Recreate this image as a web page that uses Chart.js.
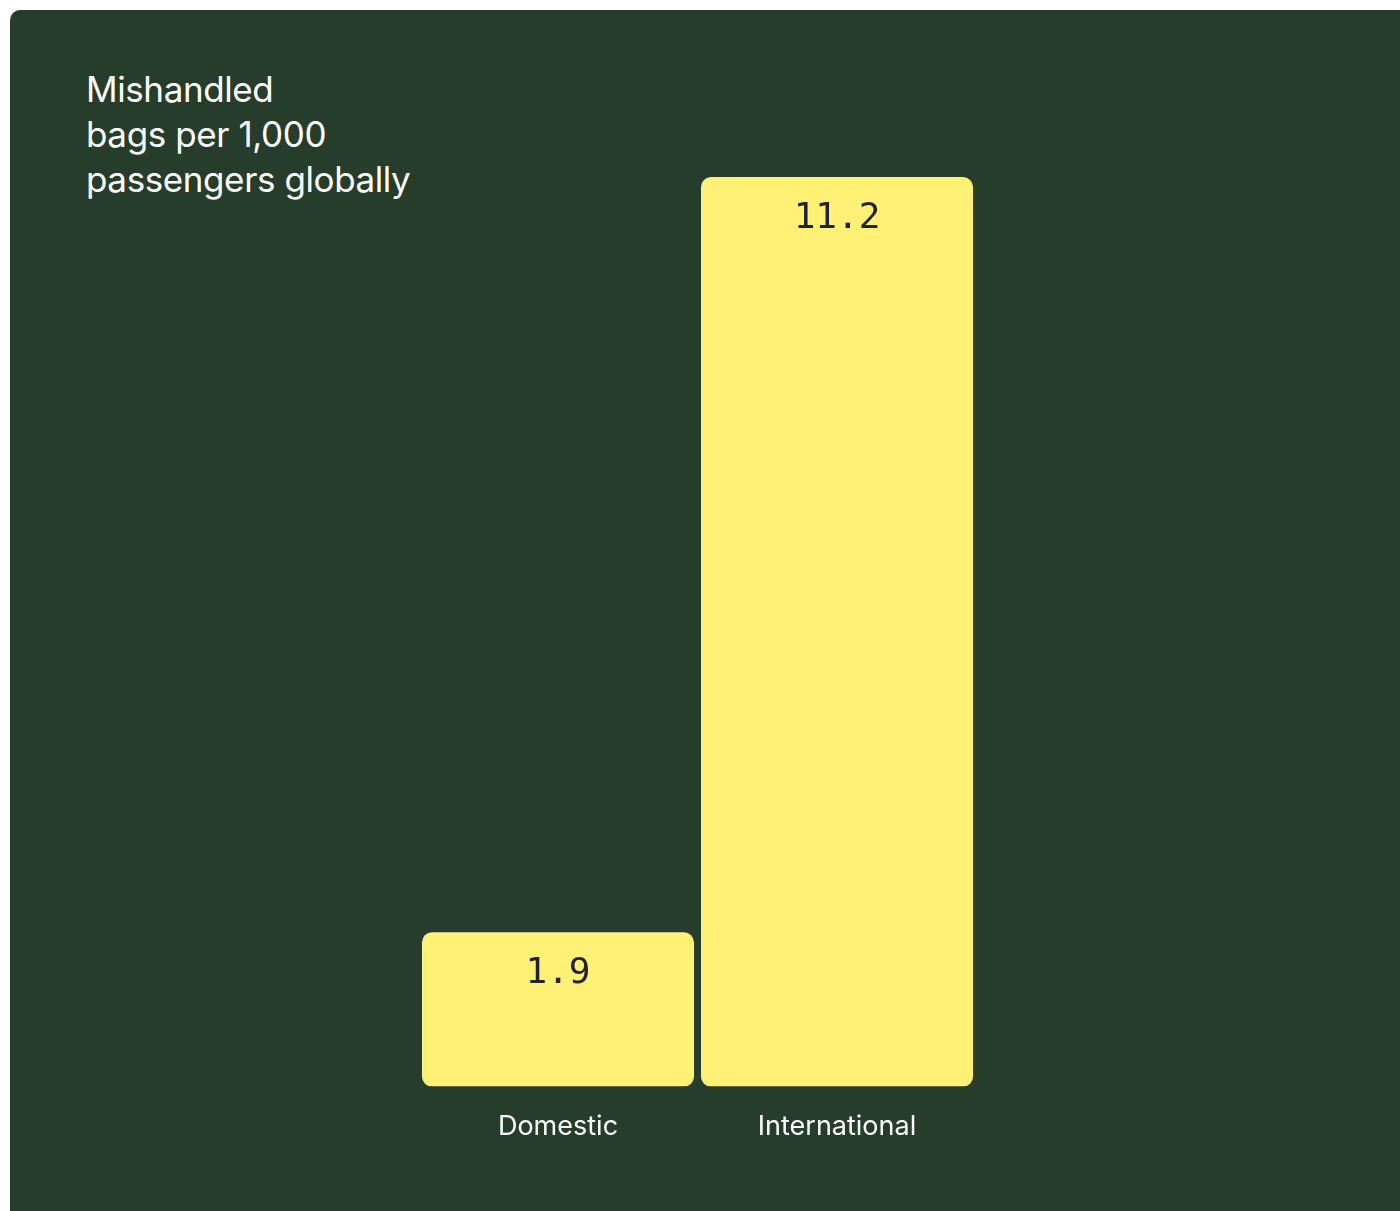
<!DOCTYPE html>
<html>
<head>
<meta charset="utf-8">
<script src="https://cdn.jsdelivr.net/npm/chart.js@4"></script>
<style>
  html, body { margin: 0; padding: 0; background: #ffffff; }
  body { width: 1400px; height: 1211px; position: relative; overflow: hidden; }
  #panel {
    position: absolute; left: 10px; top: 10px; width: 1410px; height: 1230px;
    background: #263d2b; border-radius: 10px;
  }
  #title {
    position: absolute; left: 86px; top: 67px; margin: 0;
    font-family: Inter, "Noto Sans", sans-serif; font-weight: 400;
    font-size: 35px; line-height: 45px; color: #ffffff; letter-spacing: -0.4px;
  }
  #chartWrap { position: absolute; left: 0; top: 0; width: 1400px; height: 1211px; }
</style>
</head>
<body>
<div id="panel"></div>
<p id="title">Mishandled<br>bags per 1,000<br>passengers globally</p>
<div id="chartWrap"><canvas id="chart" width="1400" height="1211"></canvas></div>
<script>
// data
const categories = ['Domestic', 'International'];
const bagsPer1000 = [1.9, 11.2];
const valueLabels = ['1.9', '11.2'];

// 棒の中に値を書く
const valueLabelPlugin = {
  id: 'valueLabels',
  afterDatasetsDraw(chart) {
    const ctx = chart.ctx;
    const meta = chart.getDatasetMeta(0);
    ctx.save();
    ctx.fillStyle = '#222222';
    ctx.font = '36px "DejaVu Sans Mono", "Liberation Mono", monospace';
    ctx.textAlign = 'center';
    ctx.textBaseline = 'alphabetic';
    meta.data.forEach((bar, i) => {
      ctx.fillText(valueLabels[i], bar.x, bar.y + 51);
    });
    ctx.restore();
  }
};

const data = {
  labels: categories,
  datasets: [
    {
      data: bagsPer1000,
      backgroundColor: '#fff176',
      borderWidth: 0,
      borderRadius: 10,
      borderSkipped: false,
      barPercentage: 0.975,
      categoryPercentage: 1
    }
  ]
};

const config = {
  type: 'bar',
  data: data,
  options: {
    responsive: false,
    animation: false,
    layout: {
      padding: { left: 418.5, right: 423.5, top: 177, bottom: 44 }
    },
    plugins: {
      legend: { display: false },
      tooltip: { enabled: false }
    },
    scales: {
      x: {
        grid: { display: false, drawTicks: false },
        border: { display: false },
        ticks: {
          color: '#ffffff',
          padding: 24,
          font: { family: 'Inter, "Noto Sans", sans-serif', size: 27 }
        }
      },
      y: {
        display: false,
        min: 0,
        max: 11.2
      }
    }
  },
  plugins: [valueLabelPlugin]
};

const chart = new Chart(document.getElementById('chart'), config);
</script>
</body>
</html>
